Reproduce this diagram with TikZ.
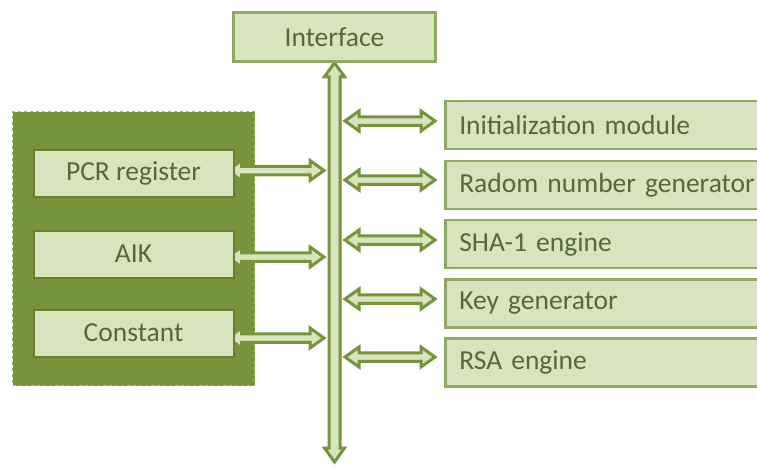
\documentclass[tikz,border=0pt]{standalone}
\usepackage{fontspec}
\setmainfont{Carlito}
\usepackage{tikz}
\usetikzlibrary{positioning, calc}

\definecolor{boxfill}{HTML}{D7E4BD}
\definecolor{boxline}{HTML}{8FA865}
\definecolor{darkgrn}{HTML}{77933C}
\definecolor{innerline}{HTML}{66802F}
\definecolor{txtgrn}{HTML}{566839}

\pgfdeclarelayer{back}
\pgfdeclarelayer{mid}
\pgfsetlayers{back,mid,main}

% hollow double-headed block arrow between two points
\newcommand{\blockarrow}[5]{%
  \coordinate (bs) at (#1);
  \coordinate (bt) at (#2);
  \coordinate (ba1) at ($(bs)!#3!(bt)$);
  \coordinate (ba2) at ($(bt)!#3!(bs)$);
  \filldraw[arrowline] (bs) -- ($(ba1)!#4!90:(bt)$) -- ($(ba1)!#5!90:(bt)$)
    -- ($(ba2)!#5!-90:(bs)$) -- ($(ba2)!#4!-90:(bs)$) -- (bt)
    -- ($(ba2)!#4!90:(bs)$) -- ($(ba2)!#5!90:(bs)$)
    -- ($(ba1)!#5!-90:(bt)$) -- ($(ba1)!#4!-90:(bt)$) -- cycle;}

\begin{document}
\begin{tikzpicture}[
    x=1pt, y=-1pt,
    box/.style={rectangle, draw=boxline, fill=boxfill, line width=2.5pt, text=txtgrn, font=\fontsize{27.5}{32}\selectfont},
    unit/.style={box, minimum height=48pt, anchor=west, text width=320pt, align=left, inner xsep=14pt, inner ysep=0pt},
    reg/.style={box, draw=innerline, line width=2pt, minimum width=200pt, minimum height=47pt},
    arrowline/.style={draw=darkgrn, fill=boxfill, line width=3pt, line join=miter},
]
\useasboundingbox (0,0) rectangle (757,466);

% Nodes
\node[box, minimum width=202pt, minimum height=49pt] (iface) at (334.5,37) {Interface};

\begin{pgfonlayer}{back}
\node[draw=boxline!80, dashed, fill=darkgrn, minimum width=242pt, minimum height=274pt, line width=1pt] (store) at (133.5,248.5) {};
\end{pgfonlayer}
\node[reg] (pcr) at (133.5,173) {PCR register};
\node[reg] (aik) at (133.5,254) {AIK};
\node[reg] (const) at (133.5,333) {Constant};

\node[unit] (init) at (444,125) {Initialization module};
\node[unit] (rng) at (444,185) {Radom number generator};
\node[unit] (sha) at (444,244) {SHA-1 engine};
\node[unit] (keygen) at (444,303.5) {Key generator};
\node[unit] (rsa) at (444,362.5) {RSA engine};

% bus
\coordinate (busend) at (334.5,462);
\coordinate (busl) at (324,0);
\coordinate (busr) at (345,0);
\begin{pgfonlayer}{mid}
\blockarrow{iface.south}{busend}{14pt}{10pt}{5.5pt}

% Arrows
\foreach \r/\dy in {pcr/-2.5, aik/3, const/5}{
  \coordinate (\r A) at ($(\r.east)+(-7,\dy)$);
  \coordinate (\r B) at (\r A -| busl);
  \blockarrow{\r A}{\r B}{14pt}{10pt}{4.25pt}
}

\foreach \u/\dy in {init/-4, rng/-5, sha/-4, keygen/-4.5, rsa/-5.5}{
  \coordinate (\u B) at ($(\u.west)+(-9,\dy)$);
  \coordinate (\u A) at (\u B -| busr);
  \blockarrow{\u A}{\u B}{14pt}{10pt}{4.25pt}
}
\end{pgfonlayer}

\end{tikzpicture}
\end{document}
